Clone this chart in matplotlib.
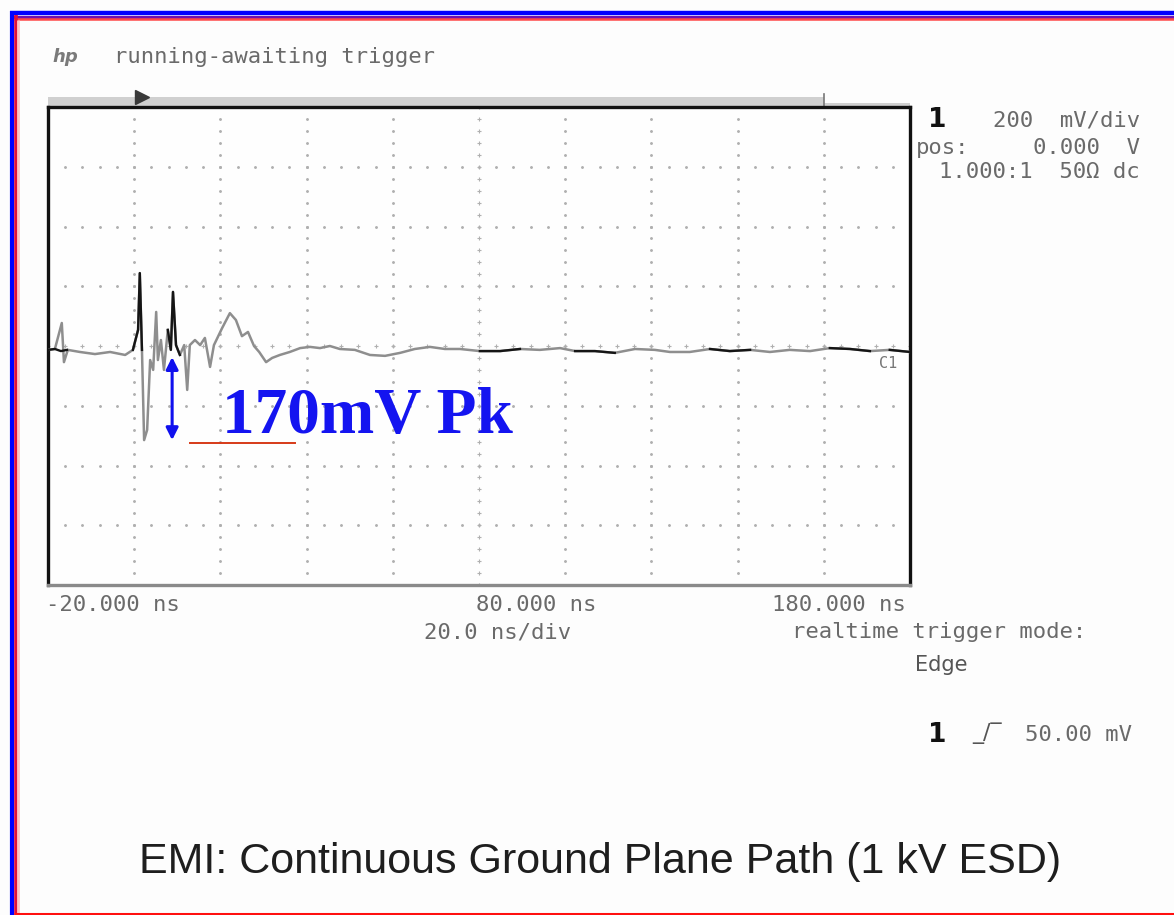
"""
EMI scope capture: continuous ground plane path, 1 kV ESD.
Redraws the HP Infinium screen grab with the 170 mV peak callout.
"""

import numpy as np
import matplotlib
matplotlib.use("Agg")
import matplotlib.pyplot as plt
from matplotlib.lines import Line2D

W, H = 1174, 915

# scope settings (time in ns, voltage in mV)
T_START, T_DIV, N_TDIV = -20, 20, 10
V_DIV, N_VDIV = 200, 8

# main (grey, persistence) trace
TRACE_NS = [-20.0, -18.4, -16.8, -16.3, -15.4, -12.6, -9.1, -5.6, -2.1, -0.3,
            0.9, 1.3, 1.8, 2.3, 3.0, 3.7, 4.4, 5.1, 5.5, 6.2,
            6.9, 7.8, 8.5, 9.0, 9.7, 10.6, 11.6, 12.3, 12.9, 14.1,
            15.3, 16.4, 17.6, 18.5, 20.4, 22.2, 23.6, 25.0, 26.4, 27.8,
            29.0, 30.6, 32.0, 33.8, 36.1, 38.5, 40.8, 43.1, 45.4, 47.7,
            51.2, 54.7, 58.2, 61.7, 65.1, 68.6, 72.1, 75.6, 80.2, 84.9,
            89.5, 94.1, 98.8, 102.3, 106.9, 111.5, 116.2, 120.8, 124.3, 128.9,
            133.6, 138.2, 142.9, 147.5, 152.1, 156.8, 161.4, 166.1, 170.7, 175.3,
            180.0]
TRACE_MV = [-13, -10, 77, -54, -13, -20, -27, -20, -30, -13,
            54, 244, -13, -315, -281, -47, -80, 114, -47, 20,
            -80, 54, -13, 181, 3, -30, 3, -147, 3, 20,
            3, 27, -70, 3, 60, 110, 87, 33, 47, 0,
            -20, -54, -40, -30, -20, -7, -3, -7, 0, -10,
            -13, -30, -33, -23, -10, -3, -10, -10, -17, -17,
            -10, -13, -7, -17, -17, -23, -10, -13, -20, -20,
            -10, -17, -13, -20, -13, -17, -7, -10, -17, -13,
            -20]

# darker (latest sweep) segments, NaN separates segments
BLACK_NS = [-20.0, -18.4, -17.0, -15.6, np.nan,
            -0.3, 0.9, 1.3, 1.8, np.nan,
            7.8, 8.5, 9.0, 9.7, 10.6, np.nan,
            80.2, 84.9, 89.5, np.nan,
            102.3, 106.9, 111.5, np.nan,
            133.6, 138.2, 142.9, np.nan,
            161.4, 166.1, 170.7, np.nan,
            175.3, 180.0]
BLACK_MV = [-13, -10, -17, -13, np.nan,
            -13, 54, 244, -13, np.nan,
            54, -13, 181, 3, -30, np.nan,
            -17, -17, -10, np.nan,
            -17, -17, -23, np.nan,
            -10, -17, -13, np.nan,
            -7, -10, -17, np.nan,
            -13, -20]

# peak callout
ARROW_NS = 8.8
ARROW_MV = [-37, -315]
UNDERLINE_NS = [12.9, 37.3]
UNDERLINE_MV = -325
PEAK_LABEL = "170mV Pk"

TRIGGER_NS = 0.0
X_LABELS = ["-20.000 ns", "80.000 ns", "180.000 ns"]
TITLE = "EMI: Continuous Ground Plane Path (1 kV ESD)"

GREY_TXT = "#6a6a6a"
MONO = "DejaVu Sans Mono"
MONO_SIZE = 16


def fx(x):
    return x / W


def fy(y):
    return 1 - y / H


def scope_text(x, y, s, ha="left"):
    fig.text(fx(x), fy(y), s, fontsize=MONO_SIZE, family=MONO,
             color=GREY_TXT, va="center", ha=ha)


fig = plt.figure(figsize=(W / 100, H / 100), dpi=100)
fig.patch.set_facecolor("#fdfdfd")

t_end = T_START + T_DIV * N_TDIV
v_top = V_DIV * N_VDIV / 2

ax = fig.add_axes([fx(48), fy(585), 862 / W, 478 / H])
ax.set_facecolor("#fefefe")
ax.set_xlim(T_START, t_end)
ax.set_ylim(-v_top, v_top)
ax.set_xticks([])
ax.set_yticks([])
for side in ["left", "top", "right"]:
    ax.spines[side].set_color("#111111")
    ax.spines[side].set_linewidth(2.4)
ax.spines["bottom"].set_color("#8a8a8a")
ax.spines["bottom"].set_linewidth(2.4)

# dotted graticule, 5 minor steps per division
major_t = T_START + T_DIV * np.arange(1, N_TDIV)
major_v = V_DIV * np.arange(-N_VDIV / 2 + 1, N_VDIV / 2)
minor_t = np.arange(T_START, t_end + 0.01, T_DIV / 5)
minor_v = np.arange(-v_top, v_top + 0.01, V_DIV / 5)
center_t = T_START + T_DIV * N_TDIV / 2
for t in major_t:
    mk = "+" if t == center_t else "."
    ax.plot(np.full_like(minor_v, t), minor_v, ls="none", marker=mk,
            ms=3.5 if mk == "+" else 2.5, color="#b0b0b0", mew=0.8, zorder=1)
for v in major_v:
    mk = "+" if v == 0 else "."
    ax.plot(minor_t, np.full_like(minor_t, v), ls="none", marker=mk,
            ms=3.5 if mk == "+" else 2.5, color="#b0b0b0", mew=0.8, zorder=1)

# traces
ax.plot(TRACE_NS, TRACE_MV, color="#8e8e8e", lw=1.8, zorder=3)
ax.plot(BLACK_NS, BLACK_MV, color="#151515", lw=1.7, zorder=4)
ax.text(t_end - 3, -60, "C1", fontsize=11, family=MONO, color="#777777",
        ha="right", va="center")

# top status bar with trigger marker
ax.fill_between([T_START, 160], v_top, v_top + 32, color="#d0d0d0",
                clip_on=False, lw=0)
ax.fill_between([160, t_end], v_top, v_top + 12, color="#d0d0d0",
                clip_on=False, lw=0)
ax.plot([160, 160], [v_top, v_top + 45], color="#777777", lw=1.2, clip_on=False)
ax.plot([TRIGGER_NS + 1.8], [v_top + 34], marker=">", ms=10, color="#3a3a3a",
        clip_on=False)

# 170 mV callout
ax.annotate("", xy=(ARROW_NS, ARROW_MV[0]), xytext=(ARROW_NS, ARROW_MV[1]),
            arrowprops=dict(arrowstyle="<|-|>", color="#1010ee", lw=2.2,
                            mutation_scale=18, shrinkA=0, shrinkB=0), zorder=6)
ax.plot(UNDERLINE_NS, [UNDERLINE_MV, UNDERLINE_MV], color="#d63a18", lw=1.4,
        zorder=6)
fig.text(fx(222), fy(433), PEAK_LABEL, fontsize=47, fontweight="bold",
         family="Liberation Serif", color="#1414f0", ha="left", va="baseline")

# scope header / side panel text
fig.text(fx(52), fy(57), "hp", fontsize=13, style="italic", fontweight="bold",
         color="#7a7a7a", va="center")
scope_text(114, 57, "running-awaiting trigger")
fig.text(fx(928), fy(120), "1", fontsize=19, fontweight="bold", color="#111111",
         va="center")
scope_text(1140, 120, "200  mV/div", ha="right")
scope_text(916, 148, "pos:")
scope_text(1140, 148, "0.000  V", ha="right")
scope_text(1140, 172, "1.000:1  50Ω dc", ha="right")

scope_text(46, 605, X_LABELS[0])
scope_text(476, 605, X_LABELS[1])
scope_text(906, 605, X_LABELS[2], ha="right")
scope_text(424, 632, "20.0 ns/div")
scope_text(792, 632, "realtime trigger mode:")
fig.text(fx(915), fy(665), "Edge", fontsize=15, color="#555555", va="center")
fig.text(fx(928), fy(735), "1", fontsize=19, fontweight="bold",
         color="#111111", va="center")
fig.text(fx(972), fy(733), "_\u2215\u203e", fontsize=16, color="#555555",
         va="center")
scope_text(1132, 735, "50.00 mV", ha="right")

fig.text(fx(600), fy(862), TITLE, fontsize=31, family="Liberation Sans",
         color="#1e1e1e", ha="center", va="center")

# scan border: blue/purple/red frame
def frame_line(xs, ys, color, lw):
    fig.add_artist(Line2D([fx(x) for x in xs], [fy(y) for y in ys],
                          color=color, lw=lw, solid_capstyle="butt"))


frame_line([10, W], [13, 13], "#0000ff", 3.2)
frame_line([13, W], [16.5, 16.5], "#7010b0", 2.2)
frame_line([14, W], [19, 19], "#ff4848", 1.8)
frame_line([11.5, 11.5], [11, H], "#0000ff", 3.0)
frame_line([15.5, 15.5], [15, H], "#e0103a", 2.6)
frame_line([18.5, 18.5], [20, H], "#ffc4c4", 2.0)
frame_line([14, W], [913.5, 913.5], "#ff1010", 2.2)

fig.savefig("out.png", dpi=100, facecolor=fig.get_facecolor())
plt.close(fig)
